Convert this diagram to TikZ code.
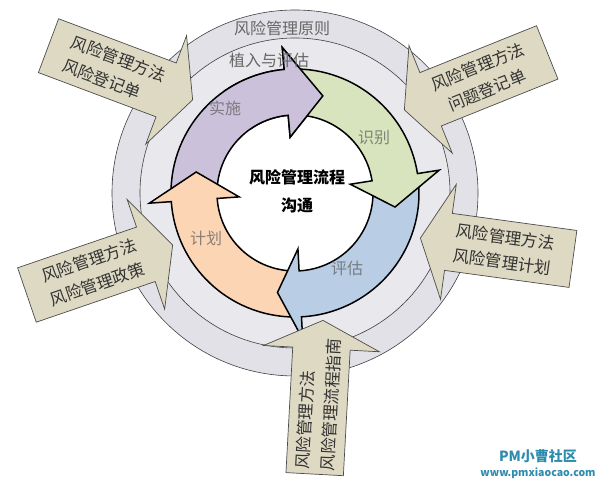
\documentclass[tikz,border=0pt]{standalone}
\usepackage{fontspec}
\setmainfont{Noto Sans CJK SC}
\usetikzlibrary{shapes.arrows, positioning}

\definecolor{bandout}{HTML}{E1E1E7}
\definecolor{bandin}{HTML}{E8E8ED}
\definecolor{lilac}{HTML}{CCC1DA}
\definecolor{sage}{HTML}{D7E4BD}
\definecolor{sky}{HTML}{B9CDE5}
\definecolor{peach}{HTML}{FCD5B5}
\definecolor{notefill}{HTML}{DDD9C3}
\definecolor{pmteal}{HTML}{2E8CAE}

\begin{document}
\begin{tikzpicture}[x=1pt, y=1pt,
  note/.style={draw=black!70, fill=notefill, line width=0.7pt, single arrow,
    single arrow head extend=29pt, single arrow tip angle=128,
    minimum height=154pt, minimum width=116pt, inner xsep=3pt, inner ysep=8pt,
    anchor=tip, text=black!80, font=\fontsize{16.5}{25}\selectfont},
  ringarrow/.style={draw=black, line width=1.5pt},
  label/.style={font=\fontsize{16}{18}\selectfont}]
  \useasboundingbox (0,0) rectangle (597,486);
  \coordinate (hub) at (295,293);

  % Bands and the cycle
  \begin{scope}[shift={(hub)}]
    \filldraw[fill=bandout, draw=black!75, line width=0.6pt] (0,0) circle[radius=183];
    \filldraw[fill=bandin, draw=black!75, line width=0.6pt] (0,0) circle[radius=155];
    \fill[white] (0,0) circle[radius=78];
    % Implement
    \path[ringarrow, fill=lilac] (180:124) arc[start angle=180, end angle=95, radius=124]
      -- (95:146) -- (74:101) -- (95:56) -- (95:78) arc[start angle=95, end angle=180, radius=78] -- cycle;
    % Plan
    \path[ringarrow, fill=peach] (269:124) arc[start angle=269, end angle=184, radius=124]
      -- (184:146) -- (168:101) -- (184:56) -- (184:78) arc[start angle=184, end angle=269, radius=78] -- cycle;
    % Assess
    \path[ringarrow, fill=sky] (5:124) arc[start angle=5, end angle=-87, radius=124]
      -- (-87:146) -- (-100:101) -- (-87:56) -- (-87:78) arc[start angle=-87, end angle=5, radius=78] -- cycle;
    % Identify
    \path[ringarrow, fill=sage] (91:124) arc[start angle=91, end angle=9, radius=124]
      -- (9:146) -- (-8:101) -- (9:56) -- (9:78) arc[start angle=9, end angle=91, radius=78] -- cycle;
    % Head of Implement on top again
    \begin{scope}
      \clip (0,0) -- (125:200) arc[start angle=125, end angle=60, radius=200] -- cycle;
      \path[ringarrow, fill=lilac] (180:124) arc[start angle=180, end angle=95, radius=124]
        -- (95:146) -- (74:101) -- (95:56) -- (95:78) arc[start angle=95, end angle=180, radius=78] -- cycle;
    \end{scope}
  \end{scope}

  % Labels
  \node[label, text=black!60] (principle) at (282,458) {风险管理原则};
  \node[label, text=black!60] (embed) at (269,426) {植入与评估};
  \node[label, text=lilac!40!black!75] (implement) at (225,378) {实施};
  \node[label, text=sage!40!black!75] (identify) at (374,348) {识别};
  \node[label, text=sky!45!black!80] (assess) at (347,218) {评估};
  \node[label, text=peach!40!black!75] (planning) at (206,248) {计划};
  \node[align=center, font=\bfseries\fontsize{16}{28}\selectfont] (process) at (297,295) {风险管理流程\\沟通};

  % Inputs
  \node[note, rotate=-20.6, align=left] (register) at (193,386) {风险管理方法\\风险登记单};
  \node[note, rotate=21.9, shape border rotate=180, align=center] (issues) at (404,376) {风险管理方法\\问题登记单};
  \node[note, rotate=18.9, align=center] (policy) at (173,241) {风险管理方法\\风险管理政策};
  \node[note, rotate=-7.8, shape border rotate=180, align=center] (plan) at (420,248) {风险管理方法\\风险管理计划};
  \node[note, rotate=86.9, align=left, inner xsep=0pt] (guide) at (323,166) {风险管理方法\\风险管理流程指南};

  \node[align=center, text=pmteal, font=\bfseries\fontsize{14}{15}\selectfont] (mark) at (538,22)
    {PM小曹社区\\{\fontsize{10.5}{12}\selectfont www.pmxiaocao.com}};
\end{tikzpicture}
\end{document}
